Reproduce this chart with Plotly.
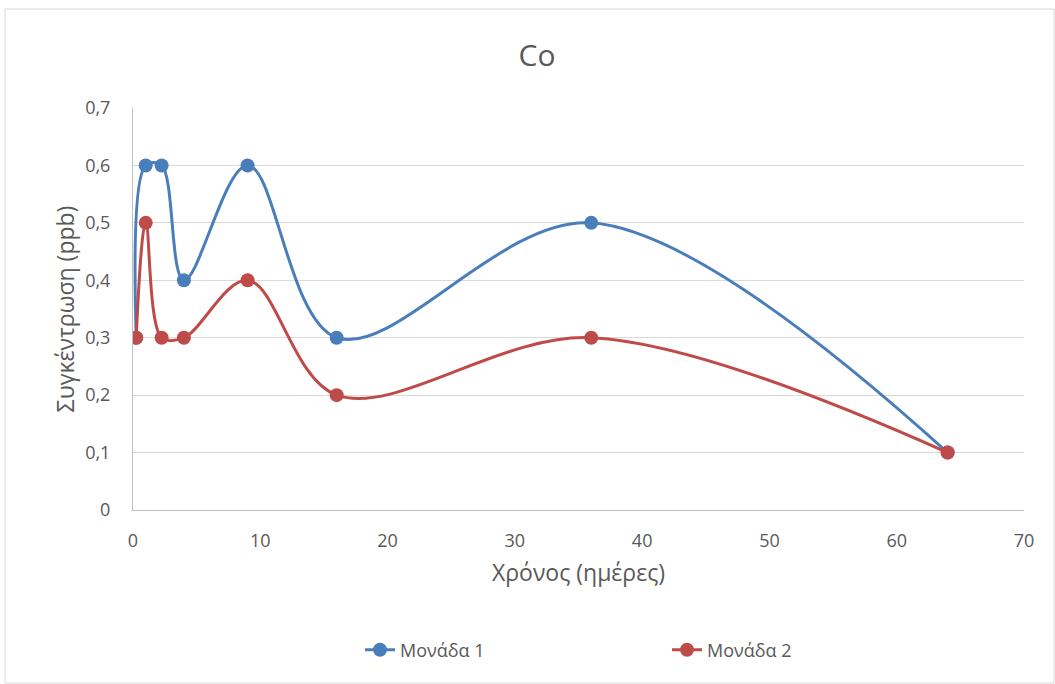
import plotly.graph_objects as go

days = [0.25, 1, 2.25, 4, 9, 16, 36, 64]
unit1 = [0.3, 0.6, 0.6, 0.4, 0.6, 0.3, 0.5, 0.1]
unit2 = [0.3, 0.5, 0.3, 0.3, 0.4, 0.2, 0.3, 0.1]
names = ["Μονάδα 1", "Μονάδα 2"]
colors = ["#4A7EBB", "#BE4B48"]
y_ticks = [0, 0.1, 0.2, 0.3, 0.4, 0.5, 0.6, 0.7]
y_labels = ["0", "0,1", "0,2", "0,3", "0,4", "0,5", "0,6", "0,7"]

FONT = "Open Sans, Noto Sans, DejaVu Sans, sans-serif"
GREY = "#595959"

fig = go.Figure()
for ys, name, c in zip([unit1, unit2], names, colors):
    fig.add_trace(go.Scatter(
        x=days, y=ys, name=name, mode="lines+markers",
        line=dict(color=c, width=3, shape="spline", smoothing=1.0),
        marker=dict(color=c, size=14),
    ))

L, R, T, B = 133, 31, 108, 174
W, H = 1055, 684
pw, ph = W - L - R, H - T - B

fig.update_layout(
    width=W, height=H,
    margin=dict(l=L, r=R, t=T, b=B),
    paper_bgcolor="white", plot_bgcolor="white",
    font=dict(family=FONT, color=GREY, size=18),
    title=dict(text="Co", x=537 / W, xanchor="center", y=1 - 55 / H, yanchor="middle",
               font=dict(size=30, color=GREY, family=FONT)),
    showlegend=True,
    legend=dict(orientation="h", x=(360 - L) / pw, xanchor="left",
                y=(H - B - 650) / ph, yanchor="middle", entrywidth=262,
                font=dict(size=18, color=GREY)),
    xaxis=dict(range=[0, 70], dtick=10, showgrid=False, zeroline=False,
               showline=True, linecolor="#BFBFBF", linewidth=1,
               ticks="", tickfont=dict(size=18, color=GREY), ticklabelstandoff=14,
               title=dict(text="Χρόνος (ημέρες)", font=dict(size=23, color=GREY), standoff=14)),
    yaxis=dict(range=[0, 0.7], tickvals=y_ticks, ticktext=y_labels,
               showgrid=True, gridcolor="#D9D9D9", gridwidth=1,
               zeroline=False, showline=True, linecolor="#BFBFBF", linewidth=1,
               ticks="", tickfont=dict(size=18, color=GREY), ticklabelstandoff=18,
               title=dict(text="Συγκέντρωση (ppb)", font=dict(size=23, color=GREY), standoff=4)),
)

fig.add_shape(type="rect", xref="paper", yref="paper",
              x0=(5 - L) / pw, x1=(1054 - L) / pw,
              y0=(H - B - 683) / ph, y1=(H - B - 9) / ph,
              line=dict(color="#D9D9D9", width=1), fillcolor="rgba(0,0,0,0)", layer="below")

fig.write_html("out.html")
